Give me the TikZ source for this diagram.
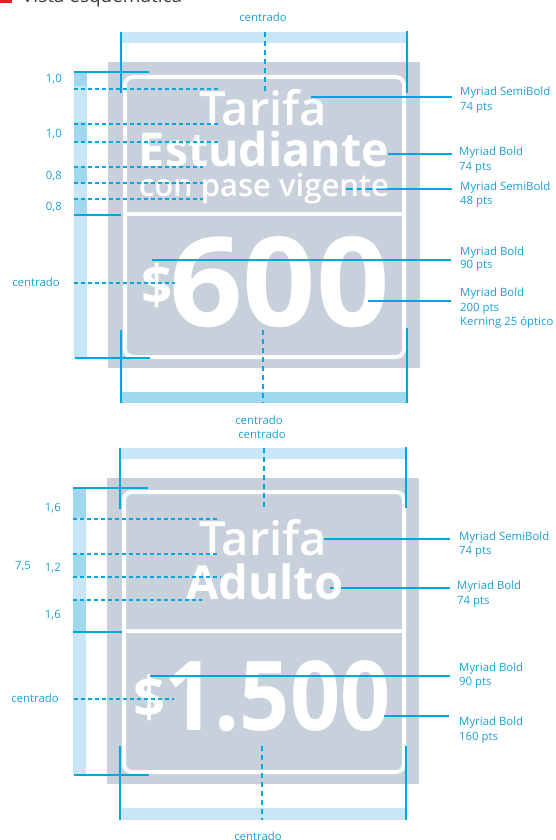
\documentclass[tikz,border=0pt]{standalone}
\usepackage{fontspec}
\setmainfont{Open Sans}
\IfFontExistsTF{Open Sans SemiBold}{\newfontfamily\semib{Open Sans SemiBold}}{%
  \IfFontExistsTF{Open Sans Semibold}{\newfontfamily\semib{Open Sans Semibold}}{%
    \newfontfamily\semib{Open Sans}[FakeBold=2.6]}}
\definecolor{cy}{RGB}{0,166,222}
\definecolor{lbl}{RGB}{28,160,216}
\definecolor{lite}{RGB}{200,230,245}
\definecolor{drk}{RGB}{160,216,240}
\definecolor{gbg}{RGB}{200,209,219}
\definecolor{redmark}{RGB}{226,30,38}
\definecolor{headgray}{RGB}{60,60,60}
\tikzset{
  solidl/.style={cy,line width=2pt},
  dashl/.style={cy,line width=1.2pt,dash pattern=on 4pt off 3pt},
  vdash/.style={cy,line width=1.6pt,dash pattern=on 5pt off 4pt},
  lab/.style={text=lbl,font=\fontsize{11.4}{13}\selectfont,inner sep=0pt},
  big/.style={text=white,inner sep=0pt},
  frame/.style={white,line width=4pt,rounded corners=8pt},
}
\begin{document}
\begin{tikzpicture}[x=1pt,y=-1pt]
\useasboundingbox (0,0) rectangle (556,840);
% header
\fill[redmark] (0,-10) rectangle (12,3);
\node[inner sep=0pt,anchor=base west,text=headgray] (head) at (22,2.5) {\resizebox{160pt}{!}{\fontsize{16}{18}\selectfont Vista esquemática}};

% ===================== panel 1 backgrounds
\fill[lite] (74,72) rectangle (87,358);
\fill[drk] (74,72) rectangle (87,86);
\fill[drk] (74,122) rectangle (87,142);
\fill[drk] (74,167) rectangle (87,183);
\fill[drk] (74,199) rectangle (87,215);
\fill[lite] (121,32) rectangle (407,43);
\fill[drk] (121,392) rectangle (407,403);
\fill[gbg] (108,62) rectangle (420,368);
\draw[frame] (125,77) rectangle (404,357);
\draw[white,line width=4pt] (125,214) -- (404,214);

% leader lines under text
\draw[solidl] (311,97) -- (452,97);
\draw[solidl] (388,154) -- (452,154);
\draw[solidl] (346,189) -- (452,189);

% texts panel 1
\node[big,anchor=base] (t1) at (263,125) {\resizebox{128pt}{!}{\semib Tarifa}};
\node[big,anchor=base] (e1) at (264,166) {\resizebox{250pt}{!}{\bfseries Estudiante}};
\node[big,anchor=base] (c1) at (264,196) {\resizebox{250pt}{!}{\semib con pase vigente}};
\node[big,anchor=north west] (d1) at (141,263) {\resizebox{31pt}{!}{\bfseries\$}};
\node[big,anchor=base] (n1) at (279.5,326) {\resizebox{220pt}{90pt}{\bfseries 600}};

% leader lines over text
\draw[solidl] (152,260) -- (451,260);
\draw[solidl] (368,301) -- (451,301);

% labels panel 1
\node[lab,anchor=base] (ct1) at (263,22) {centrado};
\node[lab,anchor=base west] (a1) at (460,96) {Myriad SemiBold};
\node[lab,anchor=base west] (a2) at (460,111) {74 pts};
\node[lab,anchor=base west] (b1) at (459,155) {Myriad Bold};
\node[lab,anchor=base west] (b2) at (459,170) {74 pts};
\node[lab,anchor=base west] (c1a) at (460,190) {Myriad SemiBold};
\node[lab,anchor=base west] (c1b) at (460,204) {48 pts};
\node[lab,anchor=base west] (d1a) at (460,255) {Myriad Bold};
\node[lab,anchor=base west] (d1b) at (460,268) {90 pts};
\node[lab,anchor=base west] (e1a) at (460,296) {Myriad Bold};
\node[lab,anchor=base west] (e1b) at (460,311) {200 pts};
\node[lab,anchor=base west] (e1c) at (460,325) {Kerning 25 óptico};
\node[lab,anchor=base east] (s1) at (62,83) {1,0};
\node[lab,anchor=base east] (s2) at (62,137) {1,0};
\node[lab,anchor=base east] (s3) at (62,179) {0,8};
\node[lab,anchor=base east] (s4) at (62,210) {0,8};
\node[lab,anchor=base east] (cl1) at (60,286) {centrado};
\node[lab,anchor=base] (cb1) at (259,424) {centrado};
\node[lab,anchor=base] (ct2) at (262,438) {centrado};

% guide lines panel 1
\draw[solidl] (121,32) -- (121,93);
\draw[solidl] (407,31) -- (407,93);
\draw[solidl] (74,72) -- (149,72);
\draw[solidl] (74,215) -- (121,215);
\draw[solidl] (75,358) -- (150,358);
\draw[solidl] (121,330) -- (121,403);
\draw[solidl] (407,328) -- (407,403);
\draw[dashl] (74,89) -- (220,89);
\draw[dashl] (74,124) -- (220,124);
\draw[dashl] (74,142) -- (221,142);
\draw[dashl] (74,167) -- (203,167);
\draw[dashl] (74,183) -- (203,183);
\draw[dashl] (74,199) -- (203,199);
\draw[dashl] (74,283) -- (175,283);
\draw[vdash] (265,32) -- (265,93);
\draw[vdash] (263,330) -- (263,403);

% ===================== panel 2 backgrounds
\fill[lite] (73,488) rectangle (86,774);
\fill[drk] (73,488) rectangle (86,518);
\fill[drk] (73,554) rectangle (86,577);
\fill[drk] (73,600) rectangle (86,632);
\fill[lite] (120,448) rectangle (406,459);
\fill[lite] (120,808) rectangle (406,820);
\fill[gbg] (107,478) rectangle (419,784);
\draw[frame] (124,492) rectangle (404,772);
\draw[white,line width=4pt] (124,631) -- (404,631);

\draw[solidl] (324,539) -- (450,539);
\draw[solidl] (330,588) -- (450,588);

\node[big,anchor=base] (t2) at (263,555) {\resizebox{128pt}{!}{\semib Tarifa}};
\node[big,anchor=base] (ad2) at (265,599) {\resizebox{157pt}{!}{\bfseries Adulto}};
\node[big,anchor=north west] (d2) at (133,675) {\resizebox{32pt}{!}{\bfseries\$}};
\node[big,anchor=base] (n2) at (277.5,730) {\resizebox{226pt}{70pt}{\bfseries 1.500}};

\draw[solidl] (150,676) -- (450,676);
\draw[solidl] (384,716) -- (449,716);

\node[lab,anchor=base west] (f1) at (459,540) {Myriad SemiBold};
\node[lab,anchor=base west] (f2) at (459,554) {74 pts};
\node[lab,anchor=base west] (g1) at (457,589) {Myriad Bold};
\node[lab,anchor=base west] (g2) at (457,604) {74 pts};
\node[lab,anchor=base west] (h1) at (459,671) {Myriad Bold};
\node[lab,anchor=base west] (h2) at (459,685) {90 pts};
\node[lab,anchor=base west] (k1) at (459,725) {Myriad Bold};
\node[lab,anchor=base west] (k2) at (459,740) {160 pts};
\node[lab,anchor=base east] (u1) at (61,511) {1,6};
\node[lab,anchor=base] (u0) at (23,569) {7,5};
\node[lab,anchor=base east] (u2) at (61,571) {1,2};
\node[lab,anchor=base east] (u3) at (61,618) {1,6};
\node[lab,anchor=base east] (cl2) at (59,702) {centrado};
\node[lab,anchor=base] (cb2) at (258,840) {centrado};

\draw[solidl] (120,448) -- (120,509);
\draw[solidl] (406,447) -- (406,508);
\draw[solidl] (73,488) -- (148,488);
\draw[solidl] (73,632) -- (122,632);
\draw[solidl] (74,775) -- (149,775);
\draw[solidl] (120,746) -- (120,820);
\draw[solidl] (406,746) -- (406,820);
\draw[dashl] (73,519) -- (218,519);
\draw[dashl] (73,554) -- (218,554);
\draw[dashl] (73,577) -- (221,577);
\draw[dashl] (73,600) -- (202,600);
\draw[dashl] (74,699) -- (174,699);
\draw[vdash] (264,448) -- (264,509);
\draw[vdash] (262,746) -- (262,820);
\end{tikzpicture}
\end{document}
